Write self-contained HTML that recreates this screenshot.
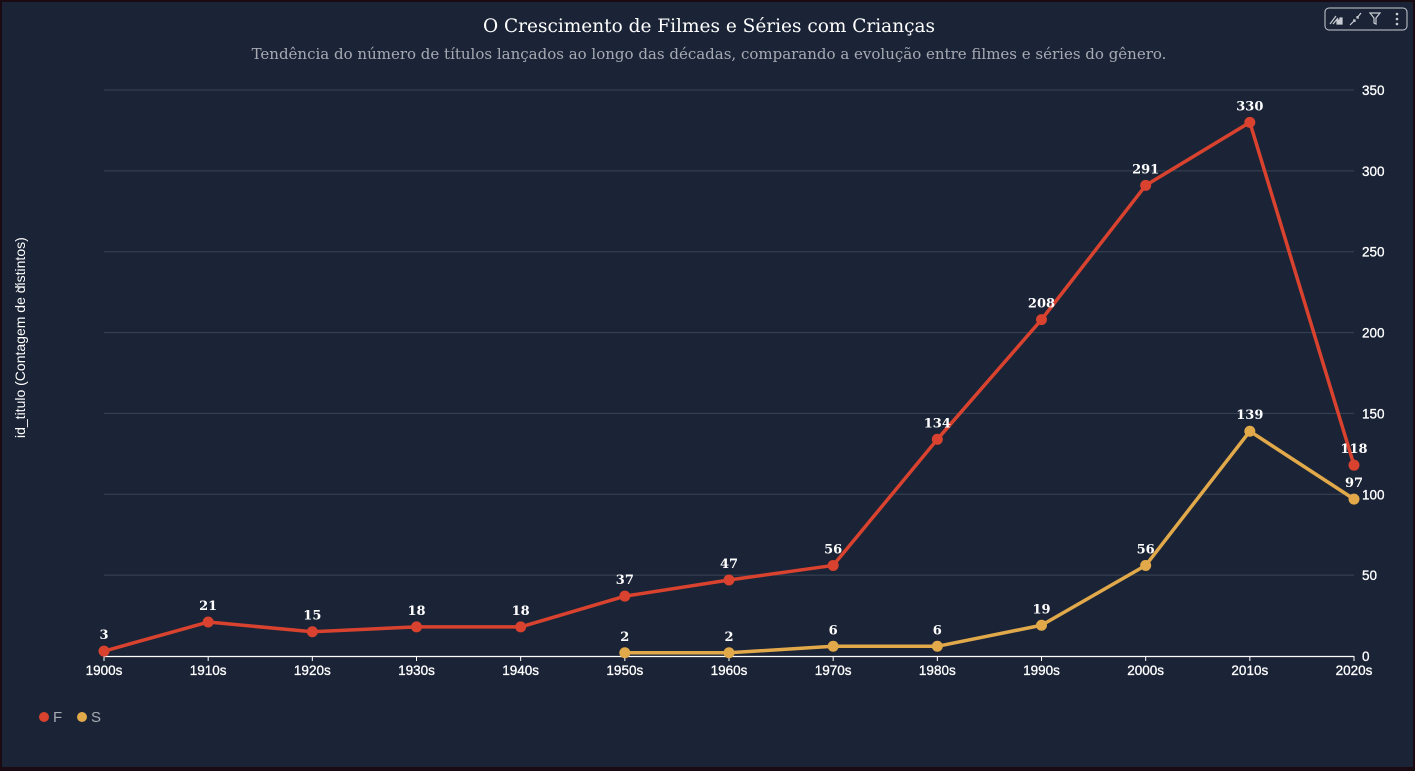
<!DOCTYPE html>
<html><head><meta charset="utf-8"><style>
html,body{margin:0;padding:0;background:#1a0b12;}
#wrap{position:absolute;left:2px;top:2px;width:1411px;height:765px;background:#1b2436;overflow:hidden;}
svg{position:absolute;left:0;top:0;}
</style></head><body>
<div id="wrap">
<svg id="c" width="1415" height="771" viewBox="2 2 1415 771">
<text x="709" y="32" text-anchor="middle" fill="#ffffff" font-family="DejaVu Serif, serif" font-size="18.5">O Crescimento de Filmes e Séries com Crianças</text>
<text x="709" y="59" text-anchor="middle" fill="#a7aab3" font-family="DejaVu Serif, serif" font-size="15">Tendência do número de títulos lançados ao longo das décadas, comparando a evolução entre filmes e séries do gênero.</text>
<g>
<rect x="1325" y="8" width="82" height="22" rx="4" fill="none" stroke="#c9ccd3" stroke-width="1"/>
<path d="M1330 24 L1336 16 M1333 24 L1338 18 M1337 24h2v-4h-2z M1340 24h2v-6h-2z" stroke="#c9ccd3" fill="#c9ccd3" stroke-width="1.2"/>
<path d="M1350 25 L1355 20 M1353 20h2v2 M1357 18 L1361 13 M1357 16v2h2" stroke="#c9ccd3" fill="none" stroke-width="1.2"/>
<path d="M1370 13h10l-4 5v6l-2-1v-5z" stroke="#c9ccd3" fill="none" stroke-width="1.2"/>
<g fill="#c9ccd3"><circle cx="1397" cy="14" r="1.3"/><circle cx="1397" cy="19" r="1.3"/><circle cx="1397" cy="24" r="1.3"/></g>
</g>
<text transform="translate(25,438) rotate(-90)" fill="#ffffff" font-family="Liberation Sans, sans-serif" font-size="14">id_titulo (Contagem de distintos)</text>
<path d="M16 284 L20 288 L16 292" stroke="#c9ccd3" fill="none"/>
<g id="grid"></g><g id="series"></g>
<g>
<g><circle cx="44" cy="717" r="5" fill="#d8422e"/><text x="53" y="722" fill="#a7aab3" font-family="Liberation Sans, sans-serif" font-size="15">F</text></g>
<g><circle cx="82" cy="717" r="5" fill="#e1a94a"/><text x="91" y="722" fill="#a7aab3" font-family="Liberation Sans, sans-serif" font-size="15">S</text></g>
</g>
</svg>
</div>
<script>
const categories=["1900s","1910s","1920s","1930s","1940s","1950s","1960s","1970s","1980s","1990s","2000s","2010s","2020s"];
const filmes=[3,21,15,18,18,37,47,56,134,208,291,330,118];
const series=[null,null,null,null,null,2,2,6,6,19,56,139,97];
const yTicks=[0,50,100,150,200,250,300,350];
const NS="http://www.w3.org/2000/svg";
const x=i=>104+i*(1354-104)/12;
const y=v=>656-v*(656-90)/350;
function mk(t,a,p){const e=document.createElementNS(NS,t);for(const k in a)e.setAttribute(k,a[k]);p.appendChild(e);return e;}
const g=document.getElementById('grid');
yTicks.forEach(t=>{
 if(t>0){const l=mk('line',{x1:104,x2:1354,y1:y(t),y2:y(t),stroke:'#3a4355','stroke-width':1},g);
 
 }
 const tx=mk('text',{x:1362,y:y(t)+5,fill:'#ffffff','font-family':'Liberation Sans, sans-serif','font-size':13.5,'stroke':'#ffffff','stroke-width':0.3},g);
 tx.textContent=t;
 
 
});
const ax=mk('line',{x1:104,x2:1354,y1:656.5,y2:656.5,stroke:'#ffffff','stroke-width':1.2},g);


categories.forEach((c,i)=>{
 mk('line',{x1:x(i),x2:x(i),y1:656,y2:661,stroke:'#fff'},g);
 const tx=mk('text',{x:x(i),y:675,'text-anchor':'middle',fill:'#ffffff','font-family':'Liberation Sans, sans-serif','font-size':13.5,'stroke':'#ffffff','stroke-width':0.3},g);
 tx.textContent=c;
 
 
});
const sg=document.getElementById('series');
function draw(vals,color,name){
 let d='';vals.forEach((v,i)=>{if(v==null)return;d+=(d?'L':'M')+x(i)+' '+y(v);});
 const p=mk('path',{d:d,stroke:color,'stroke-width':3.5,fill:'none','stroke-linejoin':'round'},sg);
 
 
 vals.forEach((v,i)=>{if(v==null)return;
  const c=mk('circle',{cx:x(i),cy:y(v),r:5.5,fill:color},sg);
  
  
  const t=mk('text',{x:x(i),y:y(v)-12,'text-anchor':'middle',fill:'#ffffff','font-family':'DejaVu Serif, serif','font-size':13,'font-weight':'bold'},sg);
  t.textContent=v;
  
  
 });
}
draw(filmes,'#d8422e','f');
draw(series,'#e1a94a','s');
</script>
</body></html>
